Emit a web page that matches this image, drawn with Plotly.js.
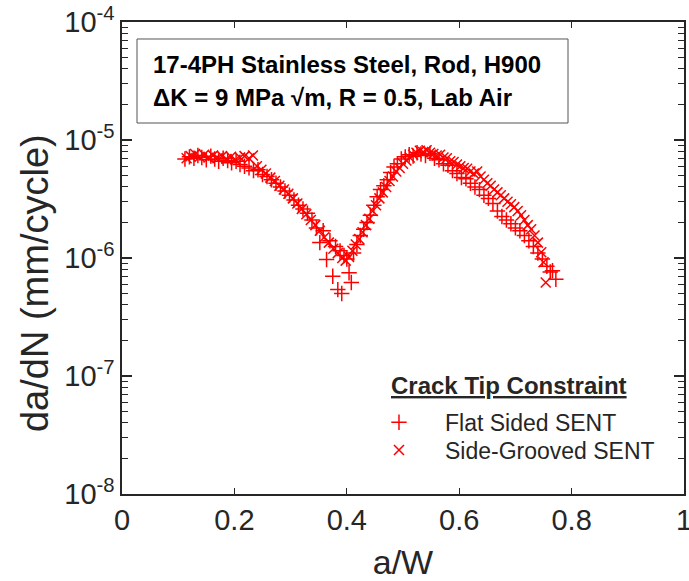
<!DOCTYPE html>
<html>
<head>
<meta charset="utf-8">
<script src="https://cdn.plot.ly/plotly-3.0.1.min.js"></script>
<style>html,body{margin:0;padding:0;background:#fff;}#chart{width:689px;height:581px;}</style>
</head>
<body>
<div id="chart"></div>
<script>
// Flat Sided SENT (+)
const flatX = [0.112,0.120,0.128,0.135,0.142,0.150,0.158,0.165,0.172,0.180,0.188,0.195,0.203,0.210,0.218,0.226,0.234,0.242,0.250,0.258,0.266,0.274,0.282,0.290,0.298,0.306,0.314,0.322,0.330,0.338,0.346,0.352,0.358,0.364,0.370,0.375,0.380,0.384,0.388,0.391,0.395,0.400,0.404,0.408,0.412,0.418,0.424,0.430,0.436,0.442,0.448,0.454,0.460,0.466,0.472,0.478,0.484,0.490,0.497,0.504,0.511,0.518,0.525,0.532,0.540,0.548,0.556,0.564,0.572,0.580,0.588,0.596,0.604,0.612,0.620,0.628,0.636,0.644,0.652,0.660,0.668,0.676,0.684,0.692,0.700,0.708,0.716,0.724,0.732,0.740,0.748,0.756,0.762,0.766,0.772];
const flatY = [6.9e-6,7.2e-6,7.0e-6,7.4e-6,7.1e-6,6.8e-6,7.3e-6,6.9e-6,6.6e-6,7.0e-6,6.7e-6,6.4e-6,6.6e-6,6.2e-6,6.0e-6,5.8e-6,5.5e-6,5.6e-6,5.1e-6,4.9e-6,4.6e-6,4.3e-6,4.0e-6,3.7e-6,3.4e-6,3.1e-6,2.8e-6,2.6e-6,2.4e-6,2.1e-6,1.8e-6,1.35e-6,1.7e-6,9.7e-7,1.4e-6,7.0e-7,1.25e-6,5.4e-7,1.15e-6,5.0e-7,1.05e-6,9.8e-7,7.5e-7,6.2e-7,1.1e-6,1.3e-6,1.55e-6,1.75e-6,2.0e-6,2.3e-6,2.8e-6,3.3e-6,3.8e-6,4.1e-6,4.6e-6,5.3e-6,5.9e-6,6.3e-6,6.9e-6,7.2e-6,7.5e-6,7.3e-6,7.8e-6,7.6e-6,7.4e-6,7.7e-6,7.0e-6,6.8e-6,6.3e-6,6.1e-6,5.5e-6,5.2e-6,4.8e-6,4.7e-6,4.3e-6,4.0e-6,3.8e-6,3.4e-6,3.2e-6,2.9e-6,2.5e-6,2.25e-6,2.1e-6,1.95e-6,1.8e-6,1.7e-6,1.55e-6,1.4e-6,1.25e-6,1.1e-6,9.8e-7,8.5e-7,7.6e-7,7.8e-7,6.6e-7];

// Side-Grooved SENT (x)
const grooveX = [0.115,0.122,0.130,0.138,0.146,0.154,0.162,0.170,0.178,0.186,0.194,0.202,0.210,0.218,0.226,0.233,0.240,0.248,0.256,0.264,0.272,0.280,0.288,0.296,0.304,0.312,0.320,0.328,0.336,0.344,0.352,0.360,0.368,0.376,0.384,0.392,0.398,0.404,0.410,0.416,0.422,0.428,0.434,0.440,0.446,0.452,0.458,0.464,0.470,0.476,0.482,0.488,0.494,0.500,0.506,0.512,0.518,0.524,0.530,0.536,0.542,0.548,0.554,0.560,0.566,0.572,0.578,0.584,0.590,0.596,0.602,0.608,0.614,0.620,0.626,0.632,0.638,0.644,0.650,0.656,0.662,0.668,0.674,0.680,0.686,0.692,0.698,0.704,0.710,0.716,0.722,0.728,0.734,0.740,0.746,0.750,0.754];
const grooveY = [7.0e-6,7.3e-6,7.6e-6,7.2e-6,7.5e-6,7.1e-6,7.4e-6,7.0e-6,7.3e-6,6.9e-6,7.2e-6,6.8e-6,7.1e-6,7.3e-6,7.0e-6,7.4e-6,6.0e-6,5.6e-6,5.2e-6,4.8e-6,4.5e-6,4.1e-6,3.8e-6,3.5e-6,3.2e-6,2.9e-6,2.6e-6,2.35e-6,2.1e-6,1.9e-6,1.7e-6,1.5e-6,1.35e-6,1.2e-6,1.1e-6,1.0e-6,9.5e-7,1.02e-6,1.15e-6,1.3e-6,1.45e-6,1.65e-6,1.9e-6,2.15e-6,2.5e-6,2.8e-6,3.2e-6,3.6e-6,4.0e-6,4.5e-6,4.9e-6,5.4e-6,5.8e-6,6.3e-6,6.7e-6,7.1e-6,7.5e-6,7.8e-6,8.1e-6,7.9e-6,8.2e-6,7.8e-6,7.6e-6,7.4e-6,7.5e-6,7.1e-6,7.0e-6,6.6e-6,6.5e-6,6.2e-6,6.0e-6,5.8e-6,5.7e-6,5.4e-6,5.2e-6,5.4e-6,4.9e-6,4.6e-6,4.3e-6,4.1e-6,3.8e-6,3.6e-6,3.4e-6,3.2e-6,3.0e-6,2.85e-6,2.7e-6,2.5e-6,2.3e-6,2.1e-6,1.9e-6,1.75e-6,1.55e-6,1.35e-6,1.12e-6,9.2e-7,6.2e-7];

const seriesNames = ["Flat Sided SENT", "Side-Grooved SENT"];
const yTickVals = [1e-8, 1e-7, 1e-6, 1e-5, 1e-4];
const yTickText = ["10<sup>-8</sup>", "10<sup>-7</sup>", "10<sup>-6</sup>", "10<sup>-5</sup>", "10<sup>-4</sup>"];
const xTickVals = [0, 0.2, 0.4, 0.6, 0.8, 1];
const xTickText = ["0", "0.2", "0.4", "0.6", "0.8", "1"];
const infoLines = ["17-4PH Stainless Steel, Rod, H900", "\u0394K = 9 MPa \u221Am, R = 0.5, Lab Air"];
const legendTitle = "Crack Tip Constraint";
const yTitle = "da/dN (mm/cycle)";
const xTitle = "a/W";

// minor log tick positions (digits 2..9 within each decade of the axis)
const yMinorVals = [];
for (let e = -8; e < -4; e++) { for (let d = 2; d <= 9; d++) { yMinorVals.push(d * Math.pow(10, e)); } }

const FONT = "Liberation Sans, Arial, Helvetica, sans-serif";
const AX = "#262626";

const traces = [
  {x: flatX, y: flatY, name: seriesNames[0], type: "scatter", mode: "markers", legend: "legend",
   marker: {symbol: "cross-thin-open", size: 11, color: "#ff0000", line: {color: "#ff0000", width: 1.5}}},
  {x: grooveX, y: grooveY, name: seriesNames[1], type: "scatter", mode: "markers", legend: "legend2",
   marker: {symbol: "x-thin-open", size: 10, color: "#ff0000", line: {color: "#ff0000", width: 1.5}}}
];

const legendCommon = {xanchor: "left", yanchor: "middle", bgcolor: "rgba(0,0,0,0)", borderwidth: 0,
                      itemwidth: 82, font: {size: 23, color: AX, family: FONT}};

const layout = {
  width: 689, height: 581,
  margin: {l: 122, r: 5, t: 22, b: 87, pad: 0},
  paper_bgcolor: "#ffffff", plot_bgcolor: "#ffffff",
  font: {family: FONT, color: AX},
  showlegend: true,
  legend: Object.assign({}, legendCommon, {x: 0.411, y: 0.152}),
  legend2: Object.assign({}, legendCommon, {x: 0.411, y: 0.093}),
  xaxis: {range: [0, 1], tickmode: "array", tickvals: xTickVals, ticktext: xTickText,
          ticks: "inside", ticklen: 6, tickwidth: 1.2, tickcolor: AX, ticklabeloverflow: "allow",
          showline: true, linecolor: AX, linewidth: 1.6, mirror: "ticks",
          showgrid: false, zeroline: false, tickfont: {size: 29, color: AX, family: FONT},
          title: {text: xTitle, font: {size: 34, color: AX, family: FONT}, standoff: 16}},
  yaxis: {type: "log", range: [-8, -4], tickmode: "array", tickvals: yTickVals, ticktext: yTickText,
          ticks: "inside", ticklen: 10, tickwidth: 1.2, tickcolor: AX,
          minor: {tickmode: "array", tickvals: yMinorVals, ticks: "inside", ticklen: 6, tickwidth: 1, tickcolor: AX, showgrid: false},
          showline: true, linecolor: AX, linewidth: 1.6, mirror: "ticks",
          showgrid: false, zeroline: false, tickfont: {size: 29, color: AX, family: FONT}},
  shapes: [
    {type: "rect", xref: "paper", yref: "paper", x0: 0.0267, x1: 0.7936, y0: 0.786, y1: 0.964,
     line: {color: "#555555", width: 1}, fillcolor: "rgba(0,0,0,0)"}
  ],
  annotations: [
    {xref: "paper", yref: "paper", x: -0.1548, y: 0.447, xanchor: "center", yanchor: "middle", textangle: -90,
     text: yTitle, showarrow: false, font: {size: 38, color: AX, family: FONT}},
    {xref: "paper", yref: "paper", x: 0.051, y: 0.9089, xanchor: "left", yanchor: "middle",
     text: "<b>" + infoLines[0] + "</b>", showarrow: false, font: {size: 24, color: "#000", family: FONT}},
    {xref: "paper", yref: "paper", x: 0.051, y: 0.8411, xanchor: "left", yanchor: "middle",
     text: "<b>" + infoLines[1] + "</b>", showarrow: false, font: {size: 24, color: "#000", family: FONT}},
    {xref: "paper", yref: "paper", x: 0.475, y: 0.230, xanchor: "left", yanchor: "middle",
     text: "<b><u>" + legendTitle + "</u></b>", showarrow: false, font: {size: 24, color: AX, family: FONT}}
  ]
};

Plotly.newPlot("chart", traces, layout, {staticPlot: true, displayModeBar: false});
</script>
</body>
</html>
